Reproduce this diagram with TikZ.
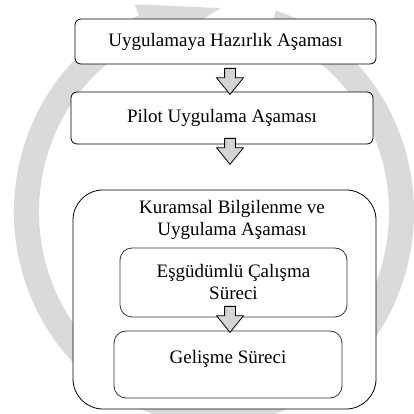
\documentclass[tikz,border=0pt]{standalone}
\usepackage{fontspec}
\setmainfont{Liberation Serif}
\usepackage{tikz}
\usetikzlibrary{calc,shapes.arrows}
\definecolor{ringgray}{HTML}{DADADA}
\definecolor{arrowgray}{HTML}{D4D4D4}
\tikzset{
  stagebox/.style={draw, fill=white, rounded corners=6pt, line width=0.8pt, inner sep=0pt},
  stagetext/.style={font=\fontsize{19}{22}\selectfont, align=center},
  downarrow/.style={single arrow, draw, fill=arrowgray, line width=0.8pt, rotate=-90,
    inner sep=5pt, minimum height=26pt, minimum width=26pt,
    single arrow head extend=8pt, single arrow tip angle=78}
}

\begin{document}
\begin{tikzpicture}[x=1pt, y=1pt]
    \useasboundingbox (0,0) rectangle (414,414);

      % radii of the background cycle
      \def\rx{187.5}
      \def\ry{199.5}

      % background cycle arrow
      \begin{scope}
        \clip (0,0) rectangle (414,414);
        \begin{scope}[shift={(214,202)}]
          \draw[ringgray, line width=25pt] (72:\rx\space and \ry)
            arc[start angle=72, end angle=-248, x radius=\rx, y radius=\ry];
          \fill[ringgray] (112:163 and 175) -- (112:212 and 224) -- (88:190 and 204) -- cycle;
        \end{scope}
      \end{scope}

      % first two stages
      \node[stagebox, stagetext, minimum width=301, minimum height=45] (prep) at (225.5,372.5) {Uygulamaya Hazırlık Aşaması};
      \node[stagebox, stagetext, minimum width=302, minimum height=52] (pilot) at (222,296) {Pilot Uygulama Aşaması};

      % third stage with its two processes
      \node[stagebox, rounded corners=30pt, minimum width=303, minimum height=219] (theory) at (224.5,114.5) {};
      \node[stagetext] (theorytitle) at (232,194) {Kuramsal Bilgilenme ve\\Uygulama Aşaması};
      \node[stagebox, stagetext, draw=black!80, rounded corners=12pt, minimum width=227, minimum height=69] (joint) at (233.5,131.5) {Eşgüdümlü Çalışma\\Süreci};
      \node[stagebox, draw=black!80, rounded corners=12pt, minimum width=228, minimum height=67] (growth) at (228,49.5) {};
      \node[stagetext] (growthtitle) at ([yshift=5.5pt]growth.center) {Gelişme Süreci};

      % block arrows
      \node[downarrow, anchor=tail] (arrA) at (230,346) {};
      \node[downarrow, anchor=tail] (arrB) at (230,276) {};
      \node[downarrow, anchor=tail] (arrC) at (230,108) {};

    \end{tikzpicture}
\end{document}
